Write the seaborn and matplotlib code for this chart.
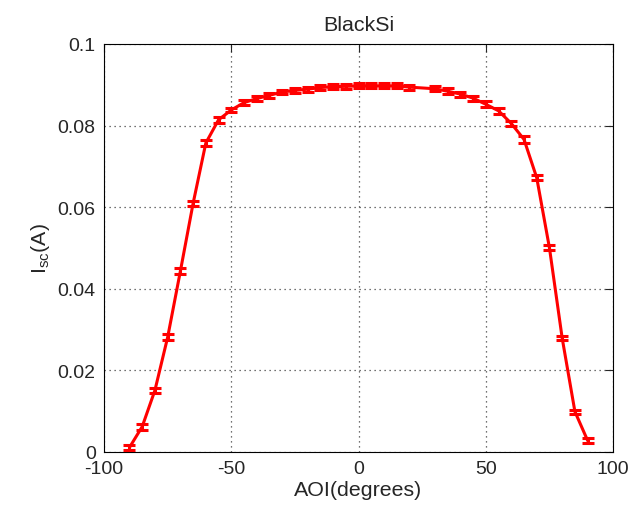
import matplotlib
matplotlib.use("Agg")
import matplotlib.pyplot as plt
import numpy as np
import seaborn as sns

# angle of incidence (degrees); no measurement at 25
aoi = [-90, -85, -80, -75, -70, -65, -60, -55, -50, -45, -40, -35, -30, -25,
       -20, -15, -10, -5, 0, 5, 10, 15, 20, 30, 35, 40, 45, 50, 55, 60, 65,
       70, 75, 80, 85, 90]
isc = [0.0011, 0.0062, 0.0151, 0.0281, 0.0443, 0.0609, 0.0757, 0.0814,
       0.0838, 0.0856, 0.0866, 0.0874, 0.0882, 0.0886, 0.0889, 0.0893,
       0.0895, 0.0896, 0.0897, 0.0897, 0.0897, 0.0897, 0.0894, 0.0890,
       0.0884, 0.0877, 0.0867, 0.0852, 0.0836, 0.0805, 0.0766, 0.0672,
       0.0500, 0.0279, 0.0099, 0.0028]
isc_err = [0.0006, 0.0007, 0.0006, 0.0007, 0.0007, 0.0006, 0.0007, 0.0007,
           0.0006, 0.0006, 0.0006, 0.0006, 0.0006, 0.0006, 0.0006, 0.0006,
           0.0006, 0.0006, 0.0006, 0.0006, 0.0006, 0.0006, 0.0006, 0.0006,
           0.0007, 0.0006, 0.0006, 0.0007, 0.0007, 0.0007, 0.0008, 0.0006,
           0.0006, 0.0005, 0.0005, 0.0007]

sns.set_style("white")
plt.rcParams['font.family'] = ['Liberation Sans', 'DejaVu Sans']
plt.rcParams['mathtext.default'] = 'regular'
plt.rcParams['axes.unicode_minus'] = False

fig = plt.figure(figsize=(6.44, 5.1), dpi=100)
ax = fig.add_axes([0.1615, 0.1118, 0.7905, 0.8002])

sns.lineplot(x=aoi, y=isc, ax=ax, color='red', linewidth=2.2, zorder=3)
ax.errorbar(aoi, isc, yerr=isc_err, fmt='none', ecolor='red',
            elinewidth=2.2, capsize=4.3, capthick=2.2, zorder=3)

ax.set_xlim(-100, 100)
ax.set_ylim(0, 0.1)
ax.set_xticks([-100, -50, 0, 50, 100])
ax.set_yticks([0, 0.02, 0.04, 0.06, 0.08, 0.1])
ax.set_yticklabels(['0', '0.02', '0.04', '0.06', '0.08', '0.1'])
ax.grid(True, color='#444444', linestyle=(0, (1, 3)), linewidth=0.9)
ax.tick_params(direction='in', top=True, right=True, length=6,
               labelsize=14, width=0.8, pad=6)
for s in ax.spines.values():
    s.set_color('black')
    s.set_linewidth(0.8)

ax.set_title('BlackSi', fontsize=15.4, pad=10)
ax.set_xlabel('AOI(degrees)', fontsize=15.4, labelpad=2)
ax.set_ylabel(r'I$_{sc}$(A)', fontsize=15.4, labelpad=4)

fig.savefig('out.png', dpi=100)
